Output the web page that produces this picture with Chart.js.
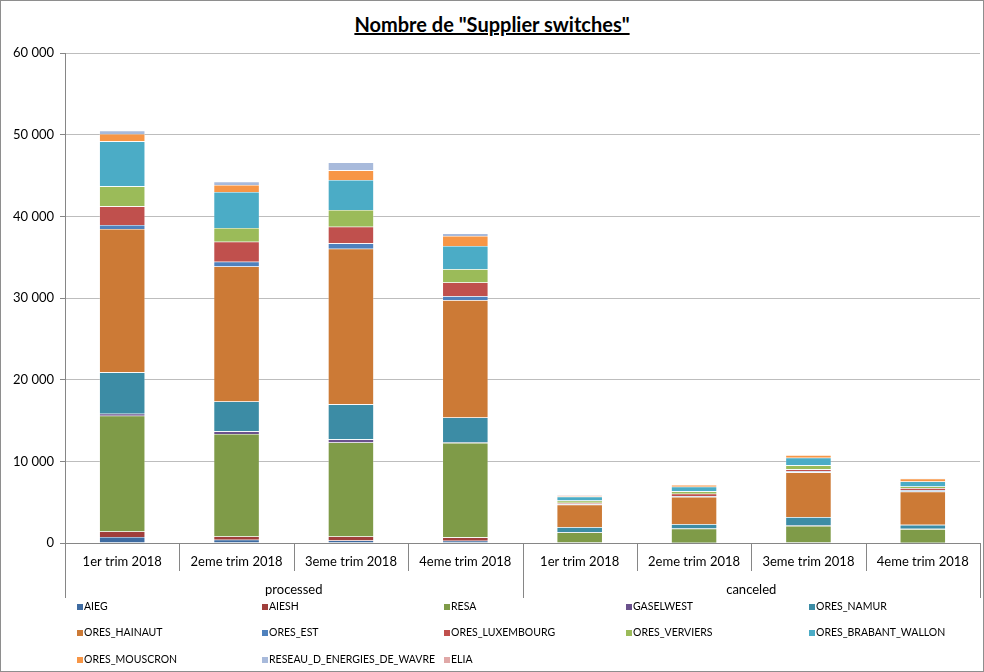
<!DOCTYPE html>
<html>
<head>
<meta charset="utf-8">
<script src="https://cdn.jsdelivr.net/npm/chart.js@4.4.0/dist/chart.umd.min.js"></script>
<style>
    body { margin: 0; background: #fff; }
    #cadre { position: relative; width: 984px; height: 672px; font-family: Lato, 'Liberation Sans', sans-serif; color: #000; }
    #bord { position: absolute; left: 0; top: 0; width: 984px; height: 672px; box-sizing: border-box; border: 1px solid #8e8e8e; pointer-events: none; }
    #titre { position: absolute; top: 12px; left: 0; width: 984px; text-align: center; font-weight: bold; font-size: 20px; line-height: 24px; text-decoration: underline; }
    canvas { position: absolute; left: 0; top: 0; }
    .item { position: absolute; font-size: 10.5px; white-space: nowrap; line-height: 12px; transform: translateY(-50%); }
    .item .carre { display: inline-block; width: 6px; height: 6px; margin-right: 1px; vertical-align: 0px; }
</style>
</head>
<body>
<div id="cadre">
    <div id="titre">Nombre de "Supplier switches"</div>
    <canvas id="grafico" width="984" height="672"></canvas>
    <div id="legende"></div>
    <div id="bord"></div>
</div>
<script>
// Catégories (deux groupes de quatre trimestres)
const categories = ['1er trim 2018', '2eme trim 2018', '3eme trim 2018', '4eme trim 2018',
                    '1er trim 2018', '2eme trim 2018', '3eme trim 2018', '4eme trim 2018'];
const groupes = ['processed', 'canceled'];
const yTicks = [0, 10000, 20000, 30000, 40000, 50000, 60000];

// Valeurs par gestionnaire de réseau
const AIEG = [735, 400, 320, 280, 30, 20, 30, 20];
const AIESH = [685, 410, 490, 410, 20, 20, 20, 20];
const RESA = [14170, 12540, 11510, 11560, 1250, 1710, 2030, 1670];
const GASELWEST = [245, 320, 370, 60, 20, 20, 60, 20];
const ORES_NAMUR = [5060, 3670, 4290, 3060, 610, 530, 1040, 490];
const ORES_HAINAUT = [17560, 16530, 19060, 14360, 2780, 3350, 5470, 4080];
const ORES_EST = [490, 580, 650, 490, 90, 100, 150, 180];
const ORES_LUXEMBOURG = [2280, 2450, 2040, 1680, 120, 280, 220, 250];
const ORES_VERVIERS = [2450, 1670, 2050, 1630, 280, 300, 490, 200];
const ORES_BRABANT_WALLON = [5510, 4410, 3670, 2850, 490, 560, 930, 610];
const ORES_MOUSCRON = [900, 860, 1180, 1220, 100, 210, 330, 330];
const RESEAU_D_ENERGIES_DE_WAVRE = [410, 400, 980, 300, 40, 30, 40, 30];
const ELIA = [20, 10, 10, 10, 100, 20, 20, 20];

const series = [
    ['AIEG', AIEG, '#3e6ba1'],
    ['AIESH', AIESH, '#a03e3b'],
    ['RESA', RESA, '#7f9b48'],
    ['GASELWEST', GASELWEST, '#6a518c'],
    ['ORES_NAMUR', ORES_NAMUR, '#3c8ca5'],
    ['ORES_HAINAUT', ORES_HAINAUT, '#cc7a36'],
    ['ORES_EST', ORES_EST, '#4f81bd'],
    ['ORES_LUXEMBOURG', ORES_LUXEMBOURG, '#c0504d'],
    ['ORES_VERVIERS', ORES_VERVIERS, '#9bbb59'],
    ['ORES_BRABANT_WALLON', ORES_BRABANT_WALLON, '#4bacc6'],
    ['ORES_MOUSCRON', ORES_MOUSCRON, '#f79646'],
    ['RESEAU_D_ENERGIES_DE_WAVRE', RESEAU_D_ENERGIES_DE_WAVRE, '#a8badb'],
    ['ELIA', ELIA, '#e0a8a7']
];

const police = "Lato, 'Liberation Sans', sans-serif";

function formatMilliers(v) {
    return String(v).replace(/\B(?=(\d{3})+(?!\d))/g, ' ');
}

// Séparateurs de l'axe X et libellés des groupes
const axeGroupes = {
    id: 'axeGroupes',
    afterDraw(chart) {
        const { ctx, chartArea } = chart;
        const x = chart.scales.x;
        const bas = chartArea.bottom;
        const n = categories.length;
        const bornes = [];
        for (let i = 0; i <= n; i++) {
            if (i === 0) bornes.push(chartArea.left);
            else if (i === n) bornes.push(chartArea.right);
            else bornes.push((x.getPixelForValue(i - 1) + x.getPixelForValue(i)) / 2);
        }
        ctx.save();
        ctx.strokeStyle = '#868686';
        ctx.lineWidth = 1;
        bornes.forEach((px, i) => {
            const long = (i % 4 === 0) ? 55 : 28;
            const xx = Math.round(px) + 0.5;
            ctx.beginPath();
            ctx.moveTo(xx, bas);
            ctx.lineTo(xx, bas + long);
            ctx.stroke();
        });
        ctx.fillStyle = '#000';
        ctx.font = '13px ' + police;
        ctx.textAlign = 'center';
        ctx.textBaseline = 'middle';
        groupes.forEach((g, k) => {
            const cx = (bornes[k * 4] + bornes[k * 4 + 4]) / 2;
            ctx.fillText(g, cx, bas + 47);
        });
        ctx.restore();
    }
};

const ctx = document.getElementById('grafico').getContext('2d');
const grafico = new Chart(ctx, {
    type: 'bar',
    data: {
        labels: categories,
        datasets: series.map(([nom, valeurs, couleur]) => ({
            label: nom,
            data: valeurs,
            backgroundColor: couleur,
            borderColor: 'rgba(255, 255, 255, 0.45)',
            borderWidth: 0.6,
            categoryPercentage: 1,
            barPercentage: 0.4
        }))
    },
    options: {
        responsive: false,
        animation: false,
        layout: { padding: { top: 53, right: 4, left: 0, bottom: 0 } },
        plugins: {
            legend: { display: false },
            title: { display: false },
            tooltip: { enabled: false }
        },
        scales: {
            x: {
                stacked: true,
                afterFit(s) { s.height = 129; },
                grid: { display: true, drawOnChartArea: false, drawTicks: false },
                border: { display: true, color: '#868686', width: 1 },
                ticks: { color: '#000', font: { family: police, size: 13 }, padding: 11, maxRotation: 0, autoSkip: false }
            },
            y: {
                stacked: true,
                min: 0,
                max: 60000,
                afterFit(s) { s.width = 65; },
                afterBuildTicks(s) { s.ticks = yTicks.map(v => ({ value: v })); },
                grid: { color: '#bdbdbd', lineWidth: 1, tickColor: '#868686', tickLength: 5 },
                border: { display: true, color: '#868686', width: 1 },
                ticks: {
                    color: '#000',
                    font: { family: police, size: 13 },
                    padding: 6,
                    callback: v => formatMilliers(v)
                }
            }
        }
    },
    plugins: [axeGroupes]
});

// Légende en colonnes
const colonnes = [77, 262, 444, 626, 809];
const lignes = [606, 632, 659];
const legende = document.getElementById('legende');
series.forEach(([nom, valeurs, couleur], i) => {
    const div = document.createElement('div');
    div.className = 'item';
    div.style.left = colonnes[i % 5] + 'px';
    div.style.top = lignes[Math.floor(i / 5)] + 'px';
    div.innerHTML = '<span class="carre" style="background:' + couleur + '"></span>' + nom;
    legende.appendChild(div);
});
</script>
</body>
</html>
